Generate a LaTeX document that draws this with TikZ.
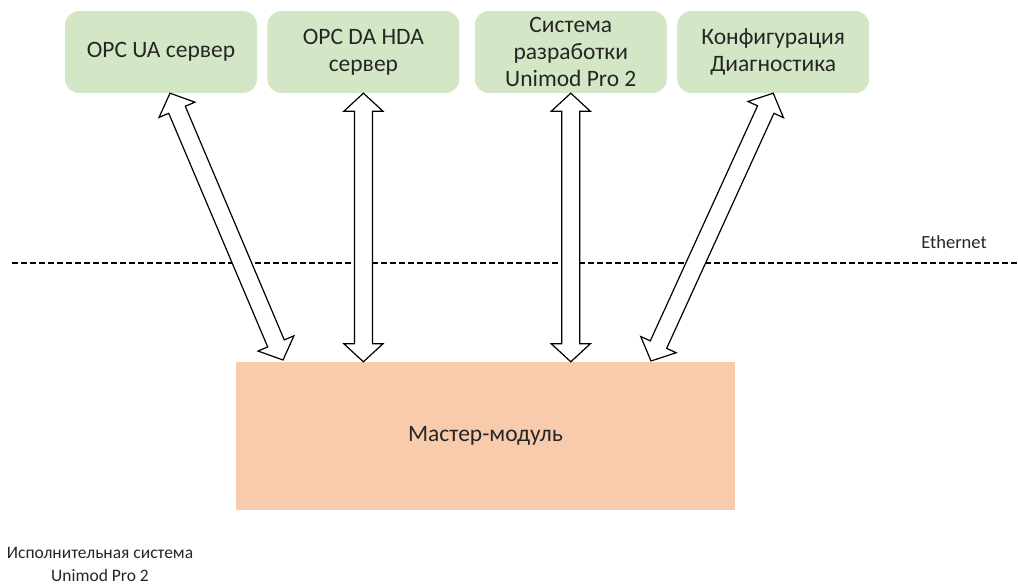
\documentclass[tikz,border=0pt]{standalone}
\usepackage{fontspec}
\setmainfont{Carlito}
\usetikzlibrary{positioning,calc}

\definecolor{boxgreen}{HTML}{D3E6C6}
\definecolor{masterorange}{HTML}{F8CBAD}
\definecolor{textgray}{HTML}{262626}

% hollow two-headed block arrow from tip #1 to tip #2
\newcommand\dblarrow[2]{%
  \draw[blockarrow] (#1)
    -- ($(#1)!18pt!(#2)!19.5pt!90:(#2)$)
    -- ($(#1)!18pt!(#2)!9pt!90:(#2)$)
    -- ($(#2)!18pt!(#1)!9pt!-90:(#1)$)
    -- ($(#2)!18pt!(#1)!19.5pt!-90:(#1)$)
    -- (#2)
    -- ($(#2)!18pt!(#1)!19.5pt!90:(#1)$)
    -- ($(#2)!18pt!(#1)!9pt!90:(#1)$)
    -- ($(#1)!18pt!(#2)!9pt!-90:(#2)$)
    -- ($(#1)!18pt!(#2)!19.5pt!-90:(#2)$)
    -- cycle;}

\begin{document}
\begin{tikzpicture}[x=1pt,y=-1pt,node distance=10pt,
    client/.style={rectangle,rounded corners=14pt,fill=boxgreen,
      minimum width=192pt,minimum height=82pt,inner sep=0pt,align=center,
      font=\fontsize{23.5}{27}\selectfont,text=textgray},
    master/.style={rectangle,fill=masterorange,minimum width=499pt,
      minimum height=148pt,font=\fontsize{23.5}{27}\selectfont,text=textgray},
    note/.style={align=center,inner sep=0pt,text=textgray},
    blockarrow/.style={draw=black,fill=white,line width=1.2pt,line join=miter},
    lan/.style={draw=black,dash pattern=on 6pt off 3pt,line width=2pt}]

  \useasboundingbox (0,0) rectangle (1018,587);

  \node[client] (opcua)              at (161,52) {OPC UA сервер};
  \node[client] (opcda)  [right=of opcua]        {OPC DA HDA\\сервер};
  \node[client] (devsys) [right=15pt of opcda]   {Система\\разработки\\Unimod Pro 2};
  \node[client] (config) [right=of devsys]       {Конфигурация\\Диагностика};

  \node[master] (master) at (485.5,436) {Мастер-модуль};

  \draw[lan] (12,263) -- (1018,263);
  \node[note,font=\fontsize{18.5}{22}\selectfont] (eth) at (954,242) {Ethernet};
  \node[note,font=\fontsize{17.5}{23}\selectfont] (runtime) at (100,564)
    {Исполнительная система\\Unimod Pro 2};

  \coordinate (ua top)  at ($(opcua.south)+(9,0)$);
  \coordinate (ua end)  at (283,360);
  \coordinate (da end)  at (opcda.south |- master.north);
  \coordinate (dev end) at (devsys.south |- master.north);
  \coordinate (cfg end) at (651,361);

  \dblarrow{ua top}{ua end}
  \dblarrow{opcda.south}{da end}
  \dblarrow{devsys.south}{dev end}
  \dblarrow{config.south}{cfg end}
\end{tikzpicture}
\end{document}
